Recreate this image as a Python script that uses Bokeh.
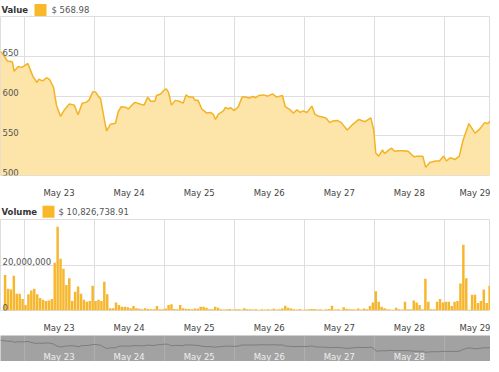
import pandas as pd
from bokeh.plotting import figure
from bokeh.models import Range1d, FixedTicker, DatetimeTickFormatter, LabelSet, ColumnDataSource
from bokeh.layouts import column
from bokeh.embed import file_html
from bokeh.resources import INLINE
from bokeh.core.properties import value

# ---------------- data ----------------
start = pd.Timestamp("2014-05-23 00:00")
day_names = ["2014-05-23", "2014-05-24", "2014-05-25", "2014-05-26",
             "2014-05-27", "2014-05-28", "2014-05-29"]
nav_day_names = day_names[:-1]       # navigator labels shown: May 23 .. May 28
view_hours = [-8.07, 159.8]          # visible window, hours from May 23 00:00

value_hours = [-8.1, -7.5, -5.7, -4.0, -3.4, -2.0, -0.7, -0.3, 1.3, 3.0,
               4.4, 5.0, 6.4, 7.7, 8.7, 10.1, 11.1, 12.5, 13.8, 15.5,
               17.2, 18.5, 19.9, 21.2, 22.2, 23.6, 24.6, 25.6, 26.2, 27.6,
               28.3, 29.6, 31.3, 32.3, 33.3, 34.7, 35.7, 36.7, 38.0, 39.7,
               41.1, 42.4, 43.4, 44.8, 45.4, 46.8, 48.1, 48.8, 49.5, 50.5,
               51.8, 53.2, 54.5, 55.5, 56.5, 57.9, 58.6, 59.6, 60.9, 62.6,
               63.9, 64.9, 65.6, 66.6, 68.3, 69.0, 70.0, 70.7, 72.0, 73.4,
               74.7, 76.0, 77.1, 78.4, 79.4, 80.4, 82.1, 83.5, 85.1, 86.5,
               88.5, 89.5, 91.2, 92.2, 93.5, 94.6, 95.6, 96.9, 98.6, 99.6,
               100.9, 102.3, 103.6, 104.7, 105.7, 107.3, 108.7, 110.7, 112.4, 114.7,
               116.8, 118.8, 119.8, 120.5, 121.5, 122.8, 123.5, 124.8, 125.9, 126.9,
               128.2, 129.9, 131.6, 133.6, 134.6, 136.6, 137.6, 139.0, 141.0, 142.3,
               143.7, 144.7, 146.0, 147.7, 149.1, 150.4, 152.4, 154.5, 156.1, 157.8,
               158.8, 160.0]
value_usd = [656, 654, 644, 643, 631, 637, 636, 637, 641, 625,
             617, 621, 619, 623, 621, 611, 588.5, 574.5, 582.5, 590,
             588.5, 576.5, 591, 592, 594.5, 605.5, 604.6, 598.6, 597, 568.5,
             556, 564.5, 565.7, 580.5, 586.5, 586, 583.7, 587.7, 592, 590,
             588.5, 598.6, 593.4, 593.4, 600.6, 602.6, 608, 608.7, 604.6, 588.5,
             594.5, 593.4, 591, 601.4, 598.6, 598.6, 594.5, 594.5, 583.7, 578.5,
             579.3, 576.5, 570.5, 577.3, 581.3, 585.8, 583.7, 585.3, 581.7, 586.5,
             598.6, 598.6, 597.4, 599.4, 597.8, 600.6, 601.4, 599.8, 602.6, 598.6,
             600.6, 586.5, 582.5, 578.5, 582.5, 579.3, 581.3, 579.3, 587.3, 577.3,
             574.5, 573.7, 571.7, 566.5, 568.5, 569.3, 566.5, 557.2, 563.6, 570.5,
             567.7, 572.5, 557.2, 528.3, 524.3, 532.3, 527.5, 531.6, 534.3, 530.4,
             531.1, 531.1, 530.4, 523.5, 524.3, 524.3, 510.2, 516.3, 518.3, 518.3,
             524.3, 518.3, 522.3, 520.2, 524.3, 544.3, 565.3, 553.3, 558.4, 566.5,
             565.3, 568.98]

volume_hours = list(range(-7, 160))   # one bar per hour
volume_musd = [15.6, 9.6, 9.2, 15.3, 7.4, 7.4, 5.1, 2.4, 7.1, 8.8,
               9.6, 7.1, 5.5, 4.7, 4.2, 4.4, 5.1, 21.0, 36.8, 22.8,
               18.3, 11.2, 14.2, 4.2, 8.2, 10.5, 7.4, 4.7, 3.8, 4.2,
               10.9, 4.2, 4.7, 4.2, 12.6, 7.1, 1.0, 1.0, 3.5, 2.4,
               1.7, 1.7, 1.4, 1.0, 2.0, 1.0, 0.8, 0.6, 1.0, 0.7,
               0.5, 0.6, 2.0, 0.6, 0.5, 0.9, 2.4, 2.8, 0.7, 0.5,
               2.4, 1.0, 0.8, 0.7, 0.6, 0.9, 0.8, 1.7, 1.7, 1.2,
               0.6, 0.5, 1.7, 1.2, 0.6, 0.4, 0.5, 0.7, 0.4, 0.5,
               0.6, 0.4, 1.0, 0.5, 0.6, 0.4, 0.5, 0.3, 0.6, 0.4,
               0.5, 0.4, 0.8, 0.4, 0.5, 0.9, 2.1, 1.2, 0.9, 0.5,
               0.4, 0.7, 0.3, 0.4, 0.5, 0.7, 0.7, 0.4, 0.6, 0.3,
               0.5, 0.7, 2.1, 0.4, 0.5, 0.3, 1.4, 0.8, 0.6, 0.5,
               0.4, 0.9, 0.4, 0.9, 0.6, 2.0, 3.5, 8.5, 3.8, 1.7,
               1.0, 0.6, 0.4, 0.3, 1.2, 0.5, 0.4, 3.8, 0.6, 0.5,
               4.4, 3.5, 2.4, 0.6, 14.0, 3.8, 0.5, 0.6, 3.8, 5.1,
               3.5, 3.8, 3.8, 2.0, 3.8, 4.2, 11.9, 28.9, 14.2, 0.3,
               6.9, 6.9, 3.3, 4.2, 9.2, 3.3, 10.82673891]

value_ticks = [500, 550, 600, 650, 700]
volume_ticks = [0, 20_000_000, 40_000_000]
value_title = "Value"
volume_title = "Volume"
last_value = 568.98
last_volume = 10_826_738.91

# ---------------- helpers ----------------
FONT = "DejaVu Sans"
FS = "8.5px"
LINE = "#f4b324"
FILL = "#fde4a8"
BAR = "#f6b62e"
GRID = "#dedede"
W = 490


def to_ms(hours):
    return [(start + pd.Timedelta(hours=h)).value / 1e6 for h in hours]


vx = to_ms(value_hours)
bx = to_ms([h + 0.5 for h in volume_hours])
bar_w = 0.85 * 3600 * 1000
vol = [m * 1e6 for m in volume_musd]

midnights = [pd.Timestamp(d).value / 1e6 for d in day_names]
noons = [(pd.Timestamp(d) + pd.Timedelta(hours=12)).value / 1e6 for d in day_names]
nav_noons = [(pd.Timestamp(d) + pd.Timedelta(hours=12)).value / 1e6 for d in nav_day_names]
nav_labels = [pd.Timestamp(d).strftime("%b %d") for d in nav_day_names]

xr = Range1d(*to_ms(view_hours))
fmt = "%b %d"
dt_fmt = DatetimeTickFormatter(days=fmt, hours=fmt, hourmin=fmt, months=fmt,
                               minutes=fmt, minsec=fmt, seconds=fmt, years=fmt)


def header(title, text, height, yc, sq_x, txt_x):
    h = figure(width=W, height=height, x_range=Range1d(0, W), y_range=Range1d(0, height),
               x_axis_location=None, y_axis_location=None, min_border=0,
               outline_line_color=None, toolbar_location=None, output_backend="svg")
    h.grid.visible = False
    h.text(x=[1], y=[yc], text=[title], text_font=value(FONT), text_font_style="bold",
           text_font_size=FS, text_baseline="middle", text_color="#333333")
    h.rect(x=[sq_x], y=[yc], width=12, height=12, fill_color="#f9b829", line_color=None)
    h.text(x=[txt_x], y=[yc], text=[text], text_font=value(FONT),
           text_font_size=FS, text_baseline="middle", text_color="#555555")
    return h


def style_main(p, yticks):
    p.xaxis.ticker = FixedTicker(ticks=noons)
    p.xaxis.formatter = dt_fmt
    p.xaxis.axis_line_color = None
    p.xaxis.major_tick_line_color = None
    p.xaxis.minor_tick_line_color = None
    p.xaxis.major_label_text_font = FONT
    p.xaxis.major_label_text_font_size = FS
    p.xaxis.major_label_text_color = "#444444"
    p.xaxis.major_label_standoff = 6
    p.xgrid.ticker = FixedTicker(ticks=midnights)
    p.ygrid.ticker = FixedTicker(ticks=yticks)
    p.grid.grid_line_color = GRID
    p.outline_line_color = GRID


# ---------------- value chart ----------------
h1 = header(value_title, "$ {:.2f}".format(last_value), 16, 6.5, 40, 51)

p1 = figure(width=W, height=184, x_axis_type="datetime", x_range=xr,
            y_range=Range1d(value_ticks[0], value_ticks[-1]), y_axis_location=None,
            output_backend="svg", toolbar_location=None,
            min_border_left=0, min_border_right=0, min_border_top=0, min_border_bottom=21)
p1.varea(x=vx, y1=value_ticks[0], y2=value_usd, fill_color=FILL)
p1.line(vx, value_usd, line_color=LINE, line_width=1.5)
style_main(p1, value_ticks)
src1 = ColumnDataSource(dict(y=value_ticks[:-1], t=[str(t) for t in value_ticks[:-1]]))
p1.add_layout(LabelSet(x=2, y="y", x_units="screen", text="t", source=src1,
                       text_font=value(FONT), text_font_size=FS, text_color="#555555",
                       text_baseline="bottom"))

# ---------------- volume chart ----------------
h2 = header(volume_title, "$ {:,.2f}".format(last_volume), 19, 7.8, 48, 58)

p2 = figure(width=W, height=116, x_axis_type="datetime", x_range=xr,
            y_range=Range1d(volume_ticks[0], volume_ticks[-1]), y_axis_location=None,
            output_backend="svg", toolbar_location=None,
            min_border_left=0, min_border_right=0, min_border_top=0, min_border_bottom=20)
p2.vbar(x=bx, top=vol, width=bar_w, fill_color=BAR, line_color=None)
style_main(p2, volume_ticks)
src2 = ColumnDataSource(dict(y=volume_ticks[:-1], t=["{:,}".format(t) for t in volume_ticks[:-1]]))
p2.add_layout(LabelSet(x=2, y="y", x_units="screen", text="t", source=src2,
                       text_font=value(FONT), text_font_size=FS, text_color="#555555",
                       text_baseline="bottom"))

# ---------------- navigator ----------------
nav_lo, nav_hi = 400, 713
p3 = figure(width=W, height=26, x_axis_type="datetime", x_range=xr,
            y_range=Range1d(nav_lo, nav_hi), x_axis_location=None, y_axis_location=None,
            output_backend="svg", toolbar_location=None, min_border=0,
            background_fill_color="#a2a2a2", outline_line_color=None)
p3.xgrid.ticker = FixedTicker(ticks=midnights)
p3.xgrid.grid_line_color = "#afafaf"
p3.ygrid.visible = False
p3.line(vx, value_usd, line_color="#7d7d7d", line_width=1)
p3.text(x=nav_noons, y=[nav_lo + (nav_hi - nav_lo) * 0.18] * len(nav_noons), text=nav_labels,
        text_font=value(FONT), text_font_size=FS, text_color="#eeeeee",
        text_align="center", text_baseline="middle")

layout = column(h1, p1, h2, p2, p3, spacing=0)
open("out.html", "w").write(file_html(layout, INLINE))
